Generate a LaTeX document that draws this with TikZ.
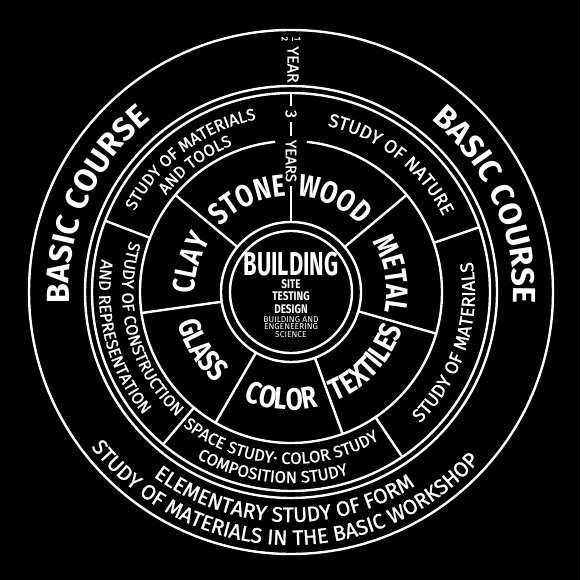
\documentclass[tikz,border=0pt]{standalone}
\usepackage{fontspec}
\setmainfont{Fira Sans}
\newfontfamily\narrowfont{Fira Sans}[FakeStretch=0.8]
\newfontfamily\midfont{Fira Sans}[FakeBold=1.2]
\usetikzlibrary{decorations.text}

\newcommand{\coursefont}{\color{white}\bfseries\fontsize{32}{32}\selectfont}
\newcommand{\craftfont}{\color{white}\narrowfont\bfseries\fontsize{31}{31}\selectfont}
\newcommand{\studyfont}{\color{white}\midfont\fontsize{16.5}{16.5}\selectfont}
\newcommand{\widestudyfont}{\color{white}\midfont\fontsize{18.5}{18.5}\selectfont}
\newcommand{\formfont}{\color{white}\midfont\fontsize{21}{21}\selectfont}
\newcommand{\halfdigit}[1]{\mbox{\midfont\fontsize{9}{9}\selectfont #1}}

\begin{document}
\begin{tikzpicture}[x=1pt,y=1pt,white,
  ring/.style={line width=2.4pt},
  divider/.style={line width=2.4pt},
  label/.style={text=white,fill=black,inner sep=2pt,rotate=-90}]
%
	\fill[black] (-291,-288) rectangle (289,292);
%
	\draw[ring] (0,0) circle[radius=262];
	\draw[ring] (0,0) circle[radius=206];
	\draw[ring] (0,0) circle[radius=199];
	\draw[ring] (96:151) arc[start angle=96,end angle=444,radius=151];
	\draw[ring] (0,0) circle[radius=70];
	\draw[ring] (0,0) circle[radius=61];
%
	\foreach \a in {40,140,188,240,290,344}
		\draw[divider] (\a:70) -- (\a:151);
	\foreach \a in {19,159,230,304}
		\draw[divider] (\a:151) -- (\a:199);
	\draw[divider] (90:70) -- (90:199);
%
	\node[label,font=\midfont\fontsize{16}{16}\selectfont,fill=none] (half) at (90:233) {$\frac{\halfdigit{1}}{\halfdigit{2}}$ YEAR};
	\node[label,font=\midfont\fontsize{16}{16}\selectfont,inner xsep=4pt] (three) at (90:178) {3};
	\node[label,font=\midfont\fontsize{15}{15}\selectfont,inner xsep=4pt] (years) at (90:131) {YEARS};
%
	\path[decorate,decoration={text along path,text align=center,text={|\coursefont|BASIC COURSE}}]
		(216:222) arc[start angle=216,end angle=96,radius=222];
	\path[decorate,decoration={text along path,text align=center,text={|\coursefont|BASIC COURSE}}]
		(84:222) arc[start angle=84,end angle=-36,radius=222];
	\path[decorate,decoration={text along path,text align=center,text={|\formfont|ELEMENTARY STUDY OF FORM}}]
		(198:230) arc[start angle=198,end angle=338,radius=230];
	\path[decorate,decoration={text along path,text align=center,text={|\formfont|STUDY OF MATERIALS IN THE BASIC WORKSHOP}}]
		(193:253) arc[start angle=193,end angle=343,radius=253];
%
	\path[decorate,decoration={text along path,text align=center,text={|\studyfont|STUDY OF MATERIALS}}]
		(177:176) arc[start angle=177,end angle=77,radius=176];
	\path[decorate,decoration={text along path,text align=center,text={|\studyfont|AND TOOLS}}]
		(177:158) arc[start angle=177,end angle=77,radius=158];
	\path[decorate,decoration={text along path,text align=center,text={|\widestudyfont|STUDY OF NATURE}}]
		(102:170) arc[start angle=102,end angle=2,radius=170];
	\path[decorate,decoration={text along path,text align=center,text={|\widestudyfont|STUDY OF MATERIALS}}]
		(292:184) arc[start angle=292,end angle=392,radius=184];
	\path[decorate,decoration={text along path,text align=center,text={|\studyfont|STUDY OF CONSTRUCTION}}]
		(145:169) arc[start angle=145,end angle=245,radius=169];
	\path[decorate,decoration={text along path,text align=center,text={|\studyfont|AND REPRESENTATION}}]
		(145:192) arc[start angle=145,end angle=245,radius=192];
	\path[decorate,decoration={text along path,text align=center,text={|\studyfont|SPACE STUDY· COLOR STUDY}}]
		(216:172) arc[start angle=216,end angle=316,radius=172];
	\path[decorate,decoration={text along path,text align=center,text={|\studyfont|COMPOSITION STUDY}}]
		(214:191) arc[start angle=214,end angle=314,radius=191];
%
	\path[decorate,decoration={text along path,text align=center,text={|\craftfont|STONE}}]
		(165:96) arc[start angle=165,end angle=65,radius=96];
	\path[decorate,decoration={text along path,text align=center,text={|\craftfont|WOOD}}]
		(115:96) arc[start angle=115,end angle=15,radius=96];
	\path[decorate,decoration={text along path,text align=center,text={|\craftfont|METAL}}]
		(60:96) arc[start angle=60,end angle=-40,radius=96];
	\path[decorate,decoration={text along path,text align=center,text={|\craftfont|CLAY}}]
		(214:96) arc[start angle=214,end angle=114,radius=96];
	\path[decorate,decoration={text along path,text align=center,text={|\craftfont|TEXTILES}}]
		(267:118) arc[start angle=267,end angle=367,radius=118];
	\path[decorate,decoration={text along path,text align=center,text={|\craftfont|COLOR}}]
		(215:118) arc[start angle=215,end angle=315,radius=118];
	\path[decorate,decoration={text along path,text align=center,text={|\craftfont|GLASS}}]
		(163:118) arc[start angle=163,end angle=263,radius=118];
%
	\node[font=\narrowfont\bfseries\fontsize{33}{33}\selectfont] (building) at (0,28) {\scalebox{0.83}[1]{BUILDING}};
	\node[font=\narrowfont\bfseries\fontsize{12.5}{12.5}\selectfont,align=center] (subjects) at (0,-4.5) {SITE\\TESTING\\DESIGN};
	\node[font=\fontsize{8.5}{7.8}\selectfont,align=center] (science) at (0,-35) {BUILDING AND\\ENGENEERING\\SCIENCE};
\end{tikzpicture}
\end{document}
